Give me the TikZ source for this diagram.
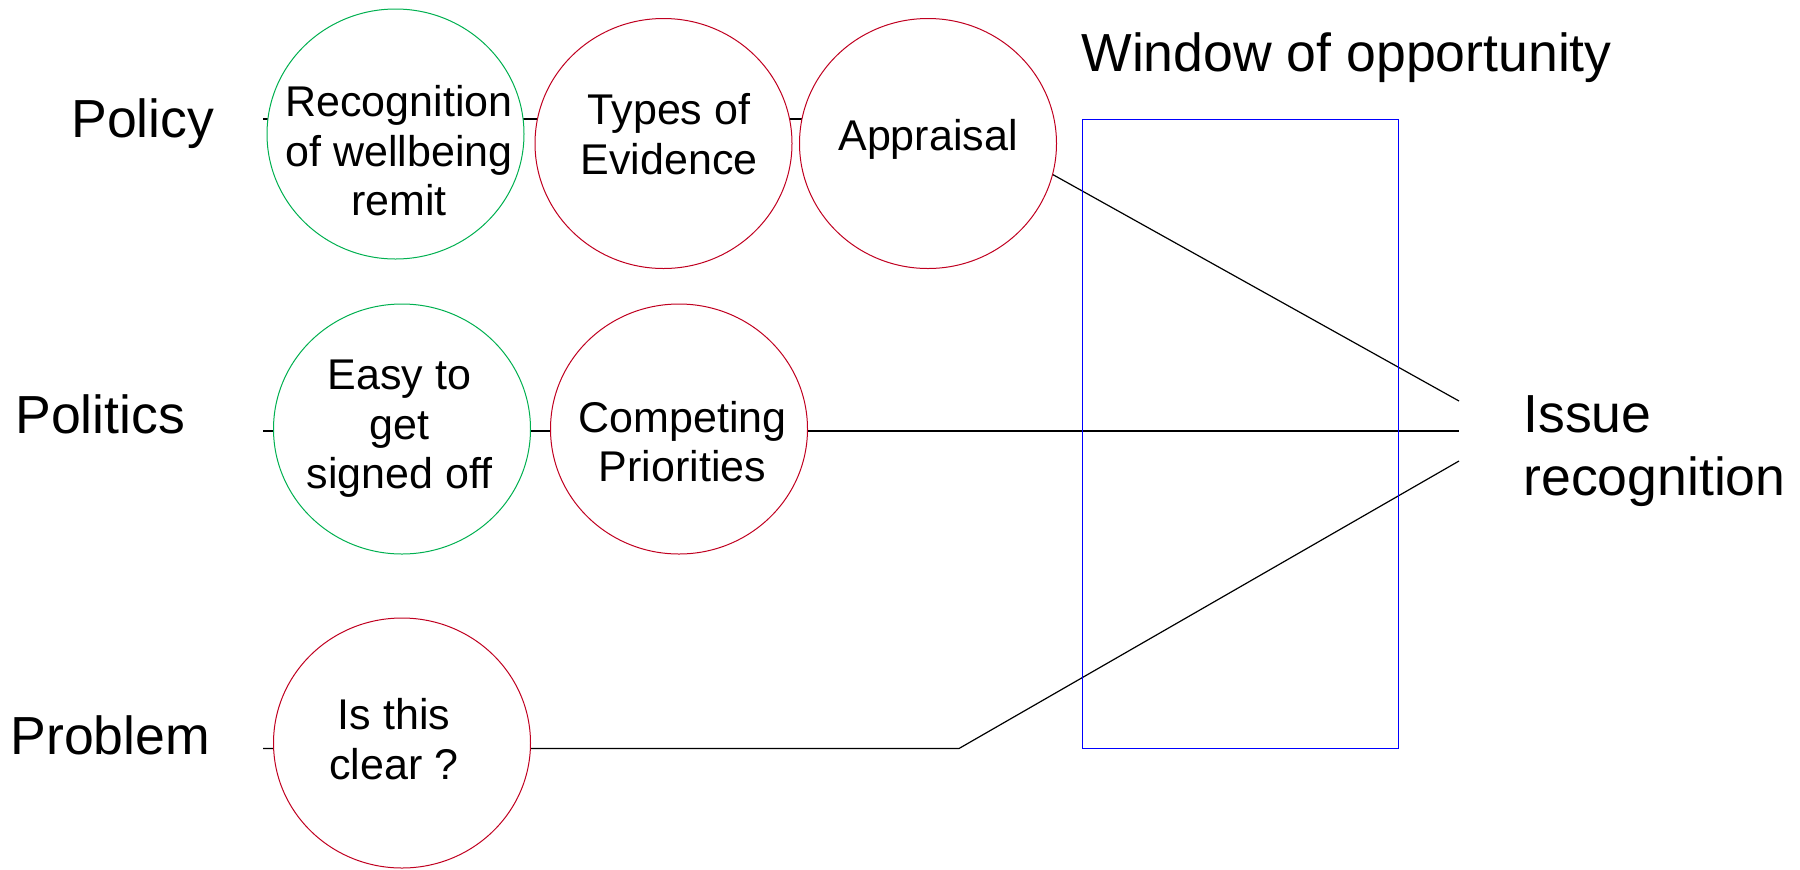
\documentclass[tikz,border=0pt]{standalone}
\usepackage{fontspec}
\setmainfont{Liberation Sans}
\usetikzlibrary{shapes.geometric}
\usetikzlibrary{backgrounds}

\definecolor{bubgreen}{RGB}{0,176,80}
\definecolor{bubred}{RGB}{192,0,32}

\begin{document}
\begin{tikzpicture}[x=0.5pt,y=0.5pt,yscale=-1,xscale=1,
  bubble/.style={ellipse,fill=white,line width=0.5pt,minimum width=128.5pt,minimum height=125pt,inner sep=0pt},
  greenbub/.style={bubble,draw=bubgreen},
  redbub/.style={bubble,draw=bubred},
  bubtext/.style={align=center,inner sep=0pt,font=\fontsize{21.5}{24.75}\selectfont},
  bigtext/.style={inner sep=0pt,font=\fontsize{26.8}{31.5}\selectfont},
  stream/.style={line width=0.6pt}]
\useasboundingbox (0,0) rectangle (1800,869);

%Shape: Ellipse, policy stream
\node[greenbub] (recog) at (395.5,134) {};
\node[redbub] (types) at (663.5,143.5) {};
\node[redbub] (apprais) at (928,143.5) {};
%Shape: Ellipse, politics stream
\node[greenbub] (easy) at (402,429) {};
\node[redbub] (compet) at (679,429) {};
%Shape: Ellipse, problem stream
\node[redbub] (clear) at (402,743) {};

% free ends of the streams
\coordinate (polstart) at (263,119);
\coordinate (politstart) at (263,431);
\coordinate (probstart) at (263,748.5);
\coordinate (kink) at (959,748.5);
\coordinate (issend1) at (1459,401);
\coordinate (issend2) at (1459,431);
\coordinate (issend3) at (1459,461);

%Straight Lines, behind the bubbles
\begin{scope}[on background layer]
\draw[stream] (polstart) -- (polstart -| apprais.center);
\draw[stream] (politstart) -- (issend2);
\draw[stream] (probstart) -- (kink) -- (issend3);
\end{scope}
%Straight Lines
\draw[stream] (apprais.-14) -- (issend1);

%Shape: Rectangle
\draw[blue,line width=0.5pt] (1082.5,119) rectangle (1398,748.5);

% Text Node
\node[bubtext] (recogtext) at (399,151) {Recognition\\of wellbeing\\remit};
% Text Node
\node[bubtext] (typestext) at (669,134) {Types of\\Evidence};
% Text Node
\node[bubtext] (appraistext) at (928,139) {Appraisal};
% Text Node
\node[bubtext] (easytext) at (399.5,429) {Easy to\\get\\signed off};
% Text Node
\node[bubtext] (compettext) at (682.5,441.5) {Competing\\Priorities};
% Text Node
\node[bubtext] (cleartext) at (394,739) {Is this\\clear ?};

% Text Node
\node[bigtext,anchor=base west] (policy) at (71,137) {Policy};
% Text Node
\node[bigtext,anchor=base west] (politics) at (15,433) {Politics};
% Text Node
\node[bigtext,anchor=base west] (problem) at (10,754) {Problem};
% Text Node
\node[bigtext,anchor=base west] (window) at (1081,71) {Window of opportunity};
% Text Node
\node[bigtext,anchor=north west,align=left] (issue) at (1523,395) {Issue\\recognition};

\end{tikzpicture}
\end{document}
